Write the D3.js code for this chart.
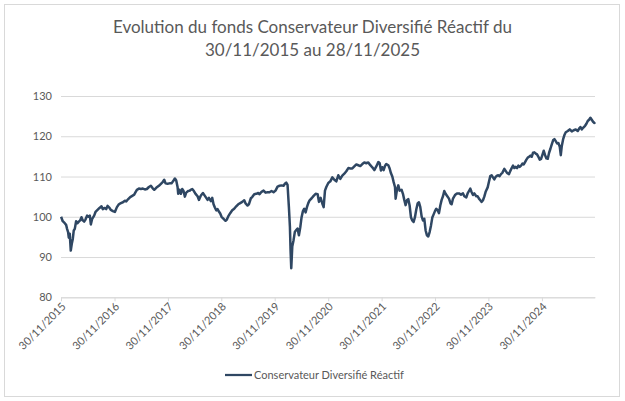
<!DOCTYPE html>
<html>
<head>
<meta charset="utf-8">
<script src="https://cdn.jsdelivr.net/npm/d3@7"></script>
<style>
  html, body { margin: 0; padding: 0; background: #fff; }
  svg { display: block; font-family: Lato, "Open Sans", sans-serif; }
</style>
</head>
<body>
<svg id="chart" width="625" height="401"></svg>
<script>
/* ── Data ─────────────────────────────────────────────────── */
const titleLines = ['Evolution du fonds Conservateur Diversifié Réactif du', '30/11/2015 au 28/11/2025'];
const seriesName = 'Conservateur Diversifié Réactif';
const yTicks = [80, 90, 100, 110, 120, 130];
const xTickLabels = ['30/11/2015', '30/11/2016', '30/11/2017', '30/11/2018', '30/11/2019',
  '30/11/2020', '30/11/2021', '30/11/2022', '30/11/2023', '30/11/2024'];

// decimal years
const years = [
  2015.914, 2015.945, 2015.983, 2016.008, 2016.026, 2016.045, 2016.058, 2016.076, 2016.095, 2016.114,
  2016.133, 2016.151, 2016.170, 2016.195, 2016.220, 2016.245, 2016.270, 2016.295, 2016.320, 2016.345,
  2016.370, 2016.401, 2016.426, 2016.451, 2016.470, 2016.495, 2016.532, 2016.557, 2016.595, 2016.632,
  2016.669, 2016.694, 2016.732, 2016.757, 2016.782, 2016.819, 2016.844, 2016.882, 2016.919, 2016.957,
  2016.994, 2017.031, 2017.069, 2017.106, 2017.131, 2017.169, 2017.206, 2017.244, 2017.281, 2017.306,
  2017.331, 2017.369, 2017.406, 2017.443, 2017.481, 2017.518, 2017.556, 2017.593, 2017.631, 2017.656,
  2017.693, 2017.743, 2017.781, 2017.818, 2017.843, 2017.868, 2017.905, 2017.943, 2017.980, 2018.018,
  2018.043, 2018.068, 2018.093, 2018.105, 2018.130, 2018.155, 2018.180, 2018.205, 2018.230, 2018.255,
  2018.292, 2018.324,
  2018.337, 2018.368, 2018.399, 2018.430, 2018.468, 2018.493, 2018.530, 2018.568, 2018.605, 2018.630,
  2018.655, 2018.680, 2018.717, 2018.742, 2018.767, 2018.792, 2018.817, 2018.842, 2018.867, 2018.892,
  2018.917, 2018.955, 2018.992, 2019.017, 2019.042, 2019.079, 2019.117, 2019.154, 2019.192, 2019.229,
  2019.267, 2019.304, 2019.342, 2019.367, 2019.404, 2019.429, 2019.466, 2019.491, 2019.529, 2019.566,
  2019.604, 2019.629, 2019.666, 2019.704, 2019.741, 2019.779, 2019.816, 2019.853, 2019.891, 2019.928,
  2019.966, 2020.003, 2020.041, 2020.078, 2020.103, 2020.128, 2020.153, 2020.178, 2020.197, 2020.209,
  2020.222, 2020.241, 2020.265, 2020.290, 2020.315, 2020.340, 2020.365, 2020.390, 2020.415, 2020.440,
  2020.465, 2020.490, 2020.515, 2020.540, 2020.565, 2020.603, 2020.640, 2020.677, 2020.715, 2020.740,
  2020.771,
  2020.802, 2020.827, 2020.852, 2020.877, 2020.914, 2020.952, 2020.989, 2021.027, 2021.064, 2021.101,
  2021.139, 2021.176, 2021.214, 2021.251, 2021.289, 2021.326, 2021.364, 2021.401, 2021.439, 2021.476,
  2021.513, 2021.551, 2021.588, 2021.626, 2021.663, 2021.701, 2021.738, 2021.776, 2021.813, 2021.851,
  2021.876, 2021.900, 2021.925, 2021.950, 2021.975, 2022.000, 2022.038, 2022.063, 2022.088, 2022.113,
  2022.138, 2022.163, 2022.175, 2022.200, 2022.225, 2022.250, 2022.287, 2022.312, 2022.337, 2022.362,
  2022.387, 2022.412, 2022.437, 2022.462, 2022.487, 2022.512, 2022.537, 2022.562, 2022.587, 2022.612,
  2022.637, 2022.662, 2022.687, 2022.712, 2022.737, 2022.762, 2022.787, 2022.812, 2022.837, 2022.862,
  2022.887, 2022.912, 2022.937, 2022.962, 2022.987, 2023.012, 2023.037, 2023.062, 2023.086, 2023.111,
  2023.143, 2023.174, 2023.205,
  2023.224, 2023.249, 2023.287, 2023.324, 2023.362, 2023.399, 2023.437, 2023.462, 2023.499, 2023.524,
  2023.549, 2023.574, 2023.599, 2023.624, 2023.649, 2023.686, 2023.711, 2023.736, 2023.761, 2023.786,
  2023.811, 2023.836, 2023.861, 2023.899, 2023.923, 2023.948, 2023.973, 2023.998, 2024.023, 2024.048,
  2024.073, 2024.098, 2024.123, 2024.148, 2024.173, 2024.211, 2024.236, 2024.261, 2024.298, 2024.323,
  2024.348, 2024.373, 2024.398, 2024.423, 2024.448, 2024.473, 2024.498, 2024.523, 2024.548, 2024.573,
  2024.598, 2024.623, 2024.648, 2024.673, 2024.698, 2024.722, 2024.747, 2024.772, 2024.797, 2024.822,
  2024.847, 2024.872, 2024.897, 2024.922, 2024.947, 2024.972, 2024.997, 2025.022, 2025.047, 2025.072,
  2025.097, 2025.122, 2025.147, 2025.172, 2025.197, 2025.222, 2025.247, 2025.266, 2025.284, 2025.309,
  2025.334, 2025.359, 2025.397, 2025.434, 2025.472, 2025.509, 2025.546, 2025.584, 2025.609, 2025.634,
  2025.659, 2025.684, 2025.721, 2025.746, 2025.771, 2025.796, 2025.821, 2025.846, 2025.871, 2025.896,
  2025.909
];

const values = [
  100.0, 98.9, 98.4, 98.0, 97.0, 96.2, 94.8, 95.8, 91.6, 93.3,
  94.5, 96.6, 97.0, 98.9, 98.4, 98.8, 99.1, 99.9, 99.1, 98.8,
  99.3, 100.3, 100.0, 100.3, 98.1, 99.5, 100.3, 101.2, 101.7, 102.2,
  102.6, 101.9, 102.2, 101.9, 102.7, 102.2, 101.7, 101.4, 101.2, 102.4,
  103.1, 103.4, 103.6, 104.0, 103.8, 104.4, 104.9, 105.2, 105.5, 106.1,
  106.7, 107.0, 106.9, 107.0, 106.8, 106.9, 107.4, 107.7, 107.0, 106.7,
  107.2, 107.7, 108.2, 108.7, 109.2, 108.3, 108.2, 108.3, 108.3, 109.0,
  109.5, 109.0, 107.4, 105.7, 106.7, 105.7, 106.9, 106.4, 105.0, 106.0,
  106.4, 106.5,
  106.7, 106.9, 106.4, 105.7, 105.1, 104.2, 105.3, 105.9, 105.2, 104.7,
  104.2, 104.7, 103.9, 104.7, 103.1, 102.3, 101.6, 101.9, 101.3, 100.8,
  100.0, 99.5, 99.0, 99.3, 100.1, 100.9, 101.6, 102.0, 102.6, 103.1,
  103.4, 103.7, 104.1, 103.3, 102.8, 103.1, 104.6, 104.9, 105.6, 105.7,
  105.9, 105.6, 106.2, 106.5, 106.0, 106.1, 106.1, 106.4, 106.1, 106.5,
  107.5, 107.7, 107.8, 107.7, 108.2, 108.5, 107.9, 102.4, 97.5, 91.7,
  87.2, 92.6, 94.2, 96.3, 96.7, 97.1, 95.4, 97.3, 99.9, 101.4,
  102.0, 101.1, 102.4, 103.4, 104.1, 104.6, 105.2, 105.7, 105.6, 103.7,
  104.7,
  103.3, 102.4, 106.5, 107.4, 108.4, 108.8, 109.8, 109.2, 108.8, 110.3,
  109.4, 110.2, 110.7, 111.3, 112.1, 112.0, 112.0, 112.5, 113.0, 112.8,
  112.6, 113.1, 113.5, 113.3, 113.5, 112.8, 112.3, 111.6, 112.5, 113.6,
  113.3, 111.5, 112.3, 111.6, 112.6, 113.1, 112.8, 112.0, 110.8, 110.0,
  108.6, 107.4, 104.5, 106.7, 107.8, 106.5, 106.7, 105.7, 104.2, 102.9,
  104.1, 104.4, 102.8, 99.9, 99.1, 98.7, 99.9, 101.8, 103.3, 103.6,
  102.4, 100.1, 99.1, 99.5, 96.6, 95.4, 95.1, 96.2, 97.8, 99.8,
  100.6, 101.4, 102.0, 101.6, 100.9, 102.8, 104.2, 105.1, 106.4, 105.7,
  105.1, 104.5, 103.3,
  103.1, 104.5, 105.4, 105.8, 105.8, 105.5, 105.8, 105.1, 104.8, 105.8,
  106.4, 107.0, 106.1, 105.4, 105.8, 105.1, 105.1, 104.5, 104.1, 103.7,
  104.1, 105.0, 106.2, 107.3, 108.7, 110.1, 110.3, 109.8, 109.3, 109.9,
  110.2, 110.3, 110.1, 110.6, 110.9, 111.9, 111.4, 110.9, 110.6, 111.4,
  112.1, 112.7, 112.1, 112.4, 112.1, 112.7, 112.4, 112.7, 113.2, 113.0,
  113.6, 114.2, 114.7, 114.9, 115.2, 114.9, 115.9, 116.0, 115.7, 115.5,
  114.9, 114.2, 114.4, 115.4, 116.4, 115.3, 114.5, 114.4, 115.9, 116.9,
  118.0, 119.0, 119.3, 118.8, 118.2, 118.3, 117.4, 115.3, 117.5, 119.2,
  120.3, 121.0, 121.3, 121.7, 121.2, 121.5, 121.7, 121.3, 121.9, 122.3,
  121.7, 122.1, 122.6, 123.1, 123.8, 124.1, 124.6, 124.1, 123.6, 123.3,
  123.5
];

/* ── Helpers ──────────────────────────────────────────────── */
const parseDay = d3.timeParse('%d/%m/%Y');
function yearToDate(v) {
  const yr = Math.floor(v);
  const a = new Date(yr, 0, 1), b = new Date(yr + 1, 0, 1);
  return new Date(+a + (v - yr) * (b - a));
}
const data = years.map((yv, i) => ({ date: yearToDate(yv), value: values[i] }));

/* ── Layout ───────────────────────────────────────────────── */
const svg = d3.select('#chart');
const plot = { left: 61, right: 595, top: 96, bottom: 297.3 };
const textColor = '#595959';
const gridColor = '#d9d9d9';
const lineColor = '#2f4763';

svg.append('rect')
  .attr('x', 4.5).attr('y', 4.5)
  .attr('width', 615).attr('height', 392)
  .attr('fill', '#fff').attr('stroke', gridColor);

/* ── Scales ───────────────────────────────────────────────── */
const x = d3.scaleTime()
  .domain([parseDay('30/11/2015'), parseDay('28/11/2025')])
  .range([plot.left, plot.right]);

const y = d3.scaleLinear()
  .domain([80, 130])
  .range([plot.bottom, plot.top]);

/* ── Title ────────────────────────────────────────────────── */
svg.append('text')
  .attr('x', 312.5).attr('y', 33)
  .attr('text-anchor', 'middle')
  .attr('fill', textColor)
  .style('font-size', '17px')
  .selectAll('tspan')
  .data(titleLines)
  .join('tspan')
  .attr('x', 312.5)
  .attr('dy', (d, i) => i ? 23 : 0)
  .text(d => d);

/* ── Grid + y labels ──────────────────────────────────────── */
const yAxis = d3.axisLeft(y)
  .tickValues(yTicks)
  .tickSize(-(plot.right - plot.left))
  .tickPadding(9);

svg.append('g')
  .attr('transform', `translate(${plot.left},0)`)
  .call(yAxis)
  .call(g => g.select('.domain').remove())
  .call(g => g.selectAll('.tick line').attr('stroke', gridColor))
  .call(g => g.selectAll('.tick text')
    .attr('fill', textColor)
    .style('font-size', '11px')
    .style('font-family', 'Lato, sans-serif'));

/* ── X axis ───────────────────────────────────────────────── */
const xAxis = d3.axisBottom(x)
  .tickValues(xTickLabels.map(parseDay))
  .tickFormat(d3.timeFormat('%d/%m/%Y'))
  .tickSize(4)
  .tickSizeOuter(0);

svg.append('g')
  .attr('transform', `translate(0,${plot.bottom})`)
  .call(xAxis)
  .call(g => g.select('.domain').attr('stroke', gridColor))
  .call(g => g.selectAll('.tick line').attr('stroke', gridColor))
  .call(g => g.selectAll('.tick text')
    .attr('fill', textColor)
    .style('font-size', '11px')
    .style('font-family', 'Lato, sans-serif')
    .attr('text-anchor', 'end')
    .attr('dy', 0)
    .attr('transform', 'translate(5,10) rotate(-45)')
    .attr('x', 0).attr('y', 0));

/* ── Series line ──────────────────────────────────────────── */
const line = d3.line()
  .x(d => x(d.date))
  .y(d => y(d.value));

svg.append('path')
  .datum(data)
  .attr('fill', 'none')
  .attr('stroke', lineColor)
  .attr('stroke-width', 2.5)
  .attr('stroke-linejoin', 'round')
  .attr('d', line);

/* ── Legend ───────────────────────────────────────────────── */
const legend = svg.append('g').attr('transform', 'translate(225,375)');
legend.append('line')
  .attr('x1', 0).attr('x2', 27)
  .attr('stroke', lineColor).attr('stroke-width', 2.25);
legend.append('text')
  .attr('x', 29).attr('dy', '0.35em')
  .attr('fill', textColor)
  .style('font-size', '11px')
  .text(seriesName);
</script>
</body>
</html>
